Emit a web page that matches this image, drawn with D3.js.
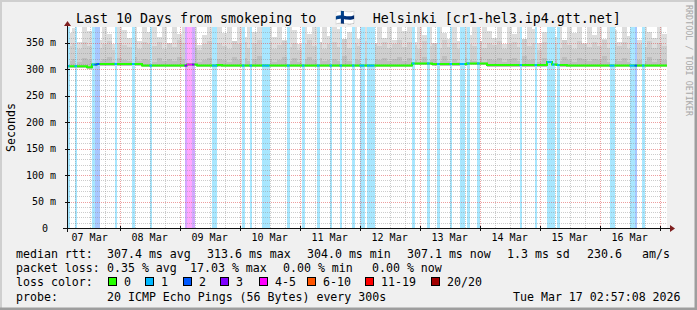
<!DOCTYPE html>
<html>
<head>
<meta charset="utf-8">
<script src="https://cdn.jsdelivr.net/npm/d3@7"></script>
<style>
    body { margin: 0; background: #f0f0f0; }
    svg text { font-family: "DejaVu Sans Mono", monospace; fill: #000; }
</style>
</head>
<body>
<div id="smoke-graph"></div>
<script>
// -------------------------------------------------------------------------
// Smokeping style latency graph: last 10 days, median rtt + smoke + loss
// -------------------------------------------------------------------------

// Time range of the graph (the "now" stamp printed bottom right)
const endTime = Date.UTC(2026, 2, 17, 2, 57, 8);
const startTime = endTime - 10 * 86400e3;

// Smoke and median are sampled in 2 hour bins (120 bins for 10 days)
const binHours = 2;

// Top of the outer (lightest) smoke layer, ms
const smokeTop = [
    368, 378, 352, 380, 372, 380, 356, 380, 366, 348, 380, 375, 360, 380, 354, 380, 370, 380, 362, 380,
    350, 380, 366, 380, 380, 380, 346, 364, 380, 357, 380, 368, 380, 349, 380, 362, 380, 371, 380, 353,
    380, 361, 380, 355, 380, 374, 347, 380, 366, 380, 352, 380, 363, 380, 376, 350, 370, 380, 358, 380,
    367, 349, 380, 360, 380, 355, 380, 372, 380, 351, 380, 364, 380, 348, 380, 369, 358, 380, 353, 380,
    365, 380, 352, 380, 373, 359, 380, 348, 380, 367, 380, 356, 380, 376, 350, 371, 380, 362, 380, 354,
    380, 369, 380, 350, 380, 365, 380, 357, 380, 374, 352, 380, 363, 380, 356, 380, 370, 359, 380, 366];

// Top of the middle smoke layer, ms
const smokeMid = [
    345, 350, 338, 352, 344, 356, 340, 348, 353, 336, 350, 346, 342, 355, 339, 351, 347, 344, 352, 338,
    349, 343, 355, 350, 362, 358, 337, 348, 353, 341, 350, 345, 339, 354, 347, 352, 340, 349, 356, 343,
    351, 338, 346, 353, 342, 350, 337, 348, 355, 344, 352, 339, 347, 351, 343, 357, 341, 349, 345, 353,
    338, 350, 344, 352, 340, 348, 355, 342, 351, 346, 339, 353, 345, 350, 341, 356, 343, 349, 338, 352,
    347, 344, 354, 340, 350, 346, 353, 339, 348, 351, 342, 357, 345, 349, 337, 352, 344, 350, 341, 355,
    346, 339, 353, 348, 342, 351, 345, 356, 340, 349, 344, 352, 338, 350, 347, 343, 354, 341, 349, 345];

// Top of the inner (darkest) smoke layer, ms
const smokeInner = [
    316, 320, 314, 322, 318, 325, 315, 319, 323, 313, 321, 317, 315, 324, 316, 320, 318, 314, 322, 316,
    319, 315, 324, 320, 352, 340, 314, 318, 322, 316, 320, 317, 313, 323, 318, 321, 315, 319, 325, 316,
    320, 314, 318, 323, 316, 321, 313, 319, 324, 317, 322, 315, 318, 320, 316, 326, 315, 319, 317, 322,
    314, 320, 317, 322, 315, 319, 324, 316, 321, 318, 313, 323, 317, 320, 315, 325, 316, 319, 314, 321,
    318, 316, 323, 314, 320, 317, 322, 313, 319, 321, 315, 326, 317, 319, 313, 322, 316, 320, 315, 324,
    317, 314, 322, 319, 315, 320, 317, 325, 314, 319, 316, 322, 313, 320, 318, 315, 323, 314, 319, 317];

// Median rtt, ms
const medianRtt = [
    306, 306, 306, 306, 304, 309, 310, 310, 310, 310, 310, 310, 310, 310, 310, 307, 307, 307, 307, 307,
    307, 307, 307, 307, 309, 309, 307, 307, 307, 307, 308, 307, 307, 307, 307, 307, 307, 307, 307, 307,
    307, 307, 307, 307, 307, 307, 307, 307, 307, 307, 307, 307, 307, 307, 307, 307, 307, 307, 307, 307,
    307, 307, 307, 307, 307, 307, 307, 307, 307, 311, 311, 311, 311, 310, 310, 310, 310, 310, 310, 310,
    311, 311, 311, 311, 308, 308, 308, 308, 308, 308, 308, 308, 308, 308, 308, 308, 313.6, 309, 308, 308,
    307, 307, 307, 307, 307, 307, 307, 307, 307, 307, 307, 307, 307, 307, 307, 307, 307, 307, 307, 307.1];

// Packet loss events: [hour since start, lost pings out of 20]
const lossEvents = [
    [0, 1], [3, 1], [10, 1], [11, 2], [12, 2], [19, 1], [26, 1], [33, 1],
    [47, 3], [48, 5], [49, 4], [50, 3], [58, 1], [59, 1], [70, 1], [73, 1],
    [78, 1], [79, 1], [80, 1], [88, 1], [94, 1], [100, 1], [105, 1], [109, 1],
    [114, 1], [117, 1], [118, 1], [120, 1], [121, 1], [122, 1], [138, 1], [144, 1],
    [148, 1], [153, 1], [157, 1], [158, 1], [160, 1], [164, 1], [181, 1], [187, 1],
    [192, 1], [193, 1], [194, 1], [196, 1], [217, 1], [218, 1], [225, 1], [226, 1],
    [227, 2], [230, 1]];

// Loss color legend
const lossLabels = ["0", "1", "2", "3", "4-5", "6-10", "11-19", "20/20"];
const lossColors = ["#26ff00", "#00b8ff", "#0059ff", "#7e00ff", "#ff00ff", "#ff5500", "#ff0000", "#a10000"];
const lossLimits = [0, 1, 2, 3, 5, 10, 19, 20];

// Statistics lines
const rttStats = ["307.4 ms avg", "313.6 ms max", "304.0 ms min", "307.1 ms now", "1.3 ms sd", "230.6", "am/s"];
const lossStats = ["0.35 % avg", "17.03 % max", "0.00 % min", "0.00 % now"];

const yTicks = [0, 50, 100, 150, 200, 250, 300, 350];

// -------------------------------------------------------------------------
const width = 697, height = 310;
const plot = { left: 67, right: 667, top: 27, bottom: 228 };

const svg = d3.select("#smoke-graph")
    .append("svg")
    .attr("width", width)
    .attr("height", height);

// Background and 3D frame
svg.append("rect").attr("width", width).attr("height", height).attr("fill", "#f0f0f0");
svg.append("path").attr("d", `M0,${height}V0H${width}`).attr("fill", "none")
    .attr("stroke", "#cfcfcf").attr("stroke-width", 4);
svg.append("path").attr("d", `M${width},0V${height}H0`).attr("fill", "none")
    .attr("stroke", "#9e9e9e").attr("stroke-width", 5);

// Scales
const x = d3.scaleUtc()
    .domain([new Date(startTime), new Date(endTime)])
    .range([plot.left, plot.right]);
const y = d3.scaleLinear()
    .domain([0, 380])
    .range([plot.bottom, plot.top]);

// Canvas
svg.append("rect")
    .attr("x", plot.left).attr("y", plot.top)
    .attr("width", plot.right - plot.left).attr("height", plot.bottom - plot.top)
    .attr("fill", "#ffffff");

// Bins -> objects (plus one closing point for the step curve)
const bins = medianRtt.map((m, i) => ({
    t: startTime + i * binHours * 3600e3,
    med: m, top: smokeTop[i], mid: smokeMid[i], inner: smokeInner[i]
}));
bins.push(Object.assign({}, bins[bins.length - 1], { t: endTime }));

// Smoke layers
const smokeLayers = [
    { key: "top", color: "#dddddd" },
    { key: "mid", color: "#cfcfcf" },
    { key: "inner", color: "#bfbfbf" }];

const gSmoke = svg.append("g");
smokeLayers.forEach(layer => {
    gSmoke.append("path")
        .datum(bins)
        .attr("fill", layer.color)
        .attr("shape-rendering", "crispEdges")
        .attr("d", d3.area()
            .curve(d3.curveStepAfter)
            .x(d => x(new Date(d.t)))
            .y0(d => y(d.med - 3))
            .y1(d => y(d[layer.key])));
});

// Loss color for a number of lost pings
function lossColor(n) {
    const i = lossLimits.findIndex(l => n <= l);
    return lossColors[i];
}
function lighten(c) {
    return d3.interpolateRgb(c, "#ffffff")(0.66);
}

// Loss bars (full height)
svg.append("g")
    .selectAll("rect")
    .data(lossEvents)
    .join("rect")
    .attr("x", d => x(new Date(startTime + d[0] * 3600e3)))
    .attr("width", d => x(new Date(startTime + (d[0] + 1) * 3600e3)) - x(new Date(startTime + d[0] * 3600e3)))
    .attr("y", plot.top)
    .attr("height", plot.bottom - plot.top)
    .attr("fill", d => lighten(lossColor(d[1])))
    .attr("shape-rendering", "crispEdges");

// Grid
const gGrid = svg.append("g").attr("shape-rendering", "crispEdges");
const minorColor = "rgba(143,143,143,0.45)";
const majorColor = "rgba(222,80,80,0.55)";

d3.range(10, 380, 10).filter(v => v % 50 !== 0).forEach(v => {
    gGrid.append("line")
        .attr("x1", plot.left).attr("x2", plot.right)
        .attr("y1", Math.round(y(v)) + 0.5).attr("y2", Math.round(y(v)) + 0.5)
        .attr("stroke", minorColor).attr("stroke-dasharray", "1,1");
});
d3.utcHour.every(6).range(new Date(startTime), new Date(endTime))
    .filter(d => d.getUTCHours() !== 0)
    .forEach(d => {
        gGrid.append("line")
            .attr("x1", Math.round(x(d)) + 0.5).attr("x2", Math.round(x(d)) + 0.5)
            .attr("y1", plot.top).attr("y2", plot.bottom)
            .attr("stroke", minorColor).attr("stroke-dasharray", "1,1");
    });
yTicks.filter(v => v > 0).forEach(v => {
    gGrid.append("line")
        .attr("x1", plot.left).attr("x2", plot.right)
        .attr("y1", Math.round(y(v)) + 0.5).attr("y2", Math.round(y(v)) + 0.5)
        .attr("stroke", majorColor).attr("stroke-dasharray", "1,1");
});
d3.utcDay.range(new Date(startTime), new Date(endTime)).forEach(d => {
    gGrid.append("line")
        .attr("x1", Math.round(x(d)) + 0.5).attr("x2", Math.round(x(d)) + 0.5)
        .attr("y1", plot.top).attr("y2", plot.bottom)
        .attr("stroke", majorColor).attr("stroke-dasharray", "1,1");
});

// Median line (green) and loss colored pieces
svg.append("path")
    .datum(bins)
    .attr("fill", "none")
    .attr("stroke", lossColors[0])
    .attr("stroke-width", 2)
    .attr("d", d3.line()
        .curve(d3.curveStepAfter)
        .x(d => x(new Date(d.t)))
        .y(d => y(d.med)));

svg.append("g")
    .selectAll("line")
    .data(lossEvents)
    .join("line")
    .attr("x1", d => x(new Date(startTime + d[0] * 3600e3)))
    .attr("x2", d => x(new Date(startTime + (d[0] + 1) * 3600e3)))
    .attr("y1", d => y(medianRtt[Math.floor(d[0] / binHours)]))
    .attr("y2", d => y(medianRtt[Math.floor(d[0] / binHours)]))
    .attr("stroke", d => lossColor(d[1]))
    .attr("stroke-width", 2);

// Axes
const axisColor = "#101010";
svg.append("line")
    .attr("x1", plot.left - 4).attr("x2", plot.right + 3)
    .attr("y1", plot.bottom + 0.5).attr("y2", plot.bottom + 0.5)
    .attr("stroke", axisColor);
svg.append("line")
    .attr("x1", plot.left + 0.5).attr("x2", plot.left + 0.5)
    .attr("y1", plot.top - 3).attr("y2", plot.bottom + 4)
    .attr("stroke", axisColor);
// Arrows
svg.append("path")
    .attr("d", `M${plot.right + 3},${plot.bottom - 3}L${plot.right + 8},${plot.bottom + 0.5}L${plot.right + 3},${plot.bottom + 4}Z`)
    .attr("fill", "#7f1f1f");
svg.append("path")
    .attr("d", `M${plot.left - 3},${plot.top - 1}L${plot.left + 0.5},${plot.top - 6}L${plot.left + 4},${plot.top - 1}Z`)
    .attr("fill", "#7f1f1f");

// Ticks on the axes
d3.utcDay.range(new Date(startTime), new Date(endTime)).forEach(d => {
    svg.append("line")
        .attr("x1", Math.round(x(d)) + 0.5).attr("x2", Math.round(x(d)) + 0.5)
        .attr("y1", plot.bottom - 2).attr("y2", plot.bottom + 3)
        .attr("stroke", axisColor);
});
yTicks.forEach(v => {
    svg.append("line")
        .attr("x1", plot.left - 2).attr("x2", plot.left + 3)
        .attr("y1", Math.round(y(v)) + 0.5).attr("y2", Math.round(y(v)) + 0.5)
        .attr("stroke", axisColor);
});

// X labels at noon of each day
const fmtDay = d3.utcFormat("%d %b");
svg.append("g")
    .selectAll("text")
    .data(d3.utcDay.range(new Date(startTime), new Date(endTime))
        .map(d => d3.utcHour.offset(d, -12))
        .filter(d => d >= startTime && d <= endTime))
    .join("text")
    .attr("x", d => x(d))
    .attr("y", 241)
    .attr("text-anchor", "middle")
    .style("font-size", "10px")
    .text(d => fmtDay(d));

// Y labels
svg.append("g")
    .selectAll("text")
    .data(yTicks)
    .join("text")
    .attr("x", d => d === 0 ? 48 : 56)
    .attr("y", d => y(d) + 3.5)
    .attr("text-anchor", "end")
    .style("font-size", "10px")
    .text(d => d === 0 ? "0" : d + " m");

svg.append("text")
    .attr("transform", "translate(15,127.5) rotate(-90)")
    .attr("text-anchor", "middle")
    .style("font-size", "11.6px")
    .text("Seconds");

// Title
const title = svg.append("text")
    .attr("y", 23)
    .style("font-size", "13.3px");
title.append("tspan").attr("x", 76).text("Last 10 Days from smokeping to");
title.append("tspan").attr("x", 335).style("font-size", "16px").text("\u{1F1EB}\u{1F1EE}");
title.append("tspan").attr("x", 372.7).text("Helsinki [cr1-hel3.ip4.gtt.net]");

// Side label
svg.append("text")
    .attr("transform", "translate(686,5) rotate(90)")
    .style("font-size", "8.4px")
    .style("fill", "#a8a8a8")
    .text("RRDTOOL / TOBI OETIKER");

// Legend lines
const legendFont = "11.6px";
function legendText(xp, yp, s) {
    svg.append("text")
        .attr("x", xp).attr("y", yp)
        .style("font-size", legendFont)
        .style("white-space", "pre")
        .text(s);
}
legendText(16, 258, "median rtt:");
[107, 207, 307, 407, 507, 587, 642].forEach((xp, i) => legendText(xp, 258, rttStats[i]));
legendText(16, 272, "packet loss:");
[107, 190, 283, 372].forEach((xp, i) => legendText(xp, 272, lossStats[i]));
legendText(16, 285.5, "loss color:");
[108, 145, 183, 220, 259, 307, 365, 431].forEach((xp, i) => {
    svg.append("rect")
        .attr("x", xp + 0.5).attr("y", 277.5)
        .attr("width", 8).attr("height", 8)
        .attr("fill", lossColors[i])
        .attr("stroke", "#000");
    legendText(xp + 16, 285.5, lossLabels[i]);
});
legendText(16, 300.5, "probe:");
legendText(107, 300.5, "20 ICMP Echo Pings (56 Bytes) every 300s");
legendText(513, 300.5, d3.utcFormat("%a %b %d %H:%M:%S %Y")(new Date(endTime)));
</script>
</body>
</html>
